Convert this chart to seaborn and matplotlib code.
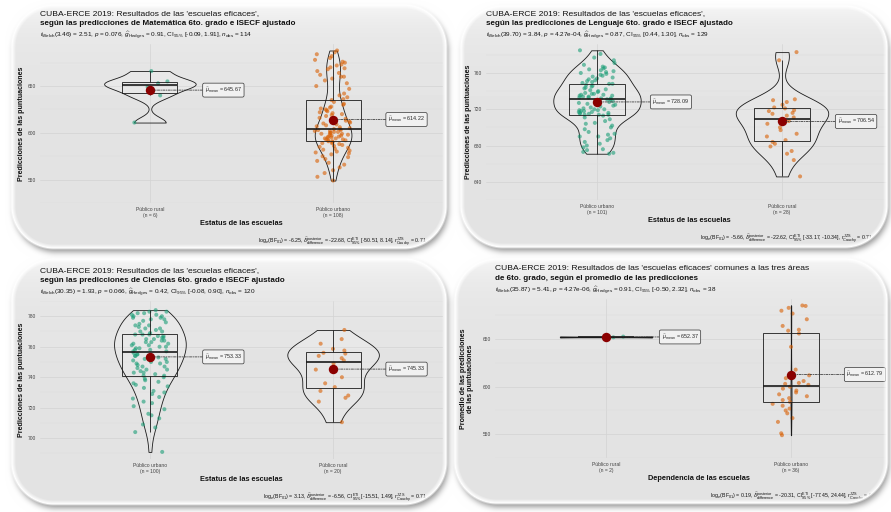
import numpy as np
import pandas as pd
import matplotlib
matplotlib.use("Agg")
import matplotlib.pyplot as plt
from matplotlib.collections import PolyCollection
import seaborn as sns

# ---------------------------------------------------------------------------
# Predicted scores per school (CUBA-ERCE 2019, 6th grade), by school status
# ---------------------------------------------------------------------------
mat_rural = [611, 640, 649, 653, 655, 666]
mat_urbano = [
    549, 553, 557, 560, 563, 566, 568, 570, 572, 574, 575, 577, 578, 579,
    580, 581, 582, 583, 584, 585, 586, 587, 588, 589, 589, 590, 591,
    591, 592, 592, 593, 593, 594, 594, 595, 595, 596, 596, 597, 597, 598,
    598, 599, 599, 600, 600, 601, 601, 602, 602, 603, 603, 604, 604,
    605, 606, 607, 608, 609, 610, 611, 612, 613, 614, 615, 616, 618, 619,
    620, 621, 622, 623, 624, 625, 626, 627, 628, 630, 631, 633, 635,
    636, 638, 640, 642, 647, 650, 653, 656, 658, 660, 660, 662, 664, 666,
    668, 669, 670, 672, 673, 675, 676, 678, 680, 682, 684, 686, 688,
]

len_urbano = [
    671, 672, 673, 675, 676, 678, 680, 682, 684, 686, 688, 690, 690, 692,
    693, 695, 698, 700, 702, 704, 705, 707, 709, 711, 713, 714,
    714, 714, 715, 715, 716, 716, 717, 717, 718, 718, 719, 719, 720, 720,
    721, 722, 723, 724, 725, 726, 727, 728, 729, 730, 731,
    731, 732, 732, 733, 733, 734, 734, 735, 735, 736, 736, 737, 737, 738,
    739, 740, 741, 742, 743, 744, 745, 746, 747, 748, 748,
    749, 750, 751, 752, 753, 754, 755, 756, 757, 758, 759, 760, 761, 762,
    763, 764, 765, 766, 767, 769, 771, 774, 777, 781, 785,
]
len_rural = [
    646, 664, 671, 674, 679, 682, 684, 686, 690, 693, 697, 700, 704, 707,
    711, 713, 715, 716, 718, 719, 721, 722, 725, 728, 730, 731, 774, 783,
]

cie_urbano = [
    691, 704, 707, 709, 713, 715, 716, 719, 721, 723, 724, 726, 727, 729,
    730, 731, 733, 734, 735, 736, 737, 738, 739, 740, 741,
    741, 742, 743, 743, 744, 745, 745, 746, 747, 747, 748, 749, 749, 750,
    750, 751, 752, 752, 753, 753, 754, 754, 755, 755, 756,
    757, 757, 758, 758, 759, 759, 760, 760, 761, 761, 762, 762, 763, 763,
    764, 764, 765, 765, 766, 766, 767, 767, 768, 768, 768,
    769, 770, 770, 771, 772, 772, 773, 774, 774, 775, 776, 777, 778, 778,
    779, 779, 780, 780, 781, 781, 782, 782, 783, 783, 784,
]
cie_rural = [
    710.5, 724, 726.5, 728, 731, 733.5, 736, 740, 745, 749,
    751, 752.5, 754, 755.5, 756, 757.5, 758.6, 762, 765, 771,
]

prom_rural = [652.0, 652.74]
prom_urbano = [
    549, 551, 563, 567, 572, 575, 577, 580, 582, 584, 586, 588, 590, 592,
    594, 596, 598, 600, 602, 603, 604, 606, 609, 612, 618, 642, 656, 659,
    660, 664, 671, 677, 680, 683, 685, 685.5,
]

rural = "Público rural"
urbano = "Público urbano"
group_colors = ["#1B9E77", "#D95F02"]

mat_yticks = [550, 600, 650]
len_yticks = [640, 680, 720, 760]
cie_yticks = [700, 720, 740, 760, 780]
prom_yticks = [550, 600, 650]

title_top = "CUBA-ERCE 2019: Resultados de las 'escuelas eficaces',"
mat_title = "según las predicciones de Matemática 6to. grado e ISECF ajustado"
len_title = "según las predicciones de Lenguaje 6to. grado e ISECF ajustado"
cie_title = "según las predicciones de Ciencias 6to. grado e ISECF ajustado"
prom_title_top = ("CUBA-ERCE 2019: Resultados de las 'escuelas eficaces' "
                  "comunes a las tres áreas")
prom_title = "de 6to. grado, según el promedio de las predicciones"

def stats_line(df, t, p, g, ci, n):
    return (r"$t_{\mathrm{Welch}}$(" + df + ") = " + t + r", $p$ = " + p +
            r", $\widehat{g}_{\mathrm{Hedges}}$ = " + g +
            r", CI$_{95\%}$ " + ci + r", $n_{\mathrm{obs}}$ = " + n)

def bayes_line(bf, d, ci):
    return (r"$\log_e$(BF$_{01}$) = " + bf +
            r", $\widehat{\delta}_{\mathrm{difference}}^{\mathrm{posterior}}$ = " + d +
            r", CI$_{95\%}^{\mathrm{ETI}}$ " + ci +
            r", $r_{\mathrm{Cauchy}}^{\mathrm{JZS}}$ = 0.71")

mat_sub = stats_line("3.46", "2.51", "0.076", "0.91", "[-0.09, 1.91]", "114")
len_sub = stats_line("39.70", "3.84", "4.27e-04", "0.87", "[0.44, 1.30]", "129")
cie_sub = stats_line("30.35", "1.93", "0.066", "0.42", "[-0.08, 0.90]", "120")
prom_sub = stats_line("35.87", "5.41", "4.27e-06", "0.91", "[-0.50, 2.32]", "38")

mat_cap = bayes_line("-6.25", "-22.68", "[-50.51, 8.14]")
len_cap = bayes_line("-5.66", "-22.62", "[-33.17, -10.34]")
cie_cap = bayes_line("3.13", "-6.56", "[-15.51, 1.49]")
prom_cap = bayes_line("0.19", "-20.31", "[-77.45, 24.44]")

# ---------------------------------------------------------------------------
sns.set_theme(style="white")
plt.rcParams["font.family"] = ["Liberation Sans", "DejaVu Sans"]
plt.rcParams["mathtext.fontset"] = "custom"
plt.rcParams["mathtext.rm"] = "Liberation Sans"
plt.rcParams["mathtext.it"] = "Liberation Sans:italic"
plt.rcParams["mathtext.bf"] = "Liberation Sans:bold"
plt.rcParams["mathtext.sf"] = "Liberation Sans"
np.random.seed(7)

W, H = 891, 512
fig = plt.figure(figsize=(W / 100, H / 100), dpi=100)

# rounded "photo" cards: (left, top, right, bottom) in pixels
cards = [(12, 5, 446, 248), (461, 6, 887, 247),
         (12, 259, 446, 504), (455, 259, 887, 503)]
RADIUS = 42
yy, xx = np.mgrid[0:H, 0:W] + 0.5


def rounded_sdf(x0, y0, x1, y1, r):
    cx, cy = (x0 + x1) / 2, (y0 + y1) / 2
    qx = np.abs(xx - cx) - ((x1 - x0) / 2 - r)
    qy = np.abs(yy - cy) - ((y1 - y0) / 2 - r)
    outside = np.hypot(np.maximum(qx, 0), np.maximum(qy, 0))
    inside = np.minimum(np.maximum(qx, qy), 0)
    return outside + inside - r


def gauss_blur(a, s):
    k = np.arange(-int(3 * s), int(3 * s) + 1)
    g = np.exp(-k ** 2 / (2 * s * s))
    g /= g.sum()
    a = np.apply_along_axis(lambda r: np.convolve(r, g, mode="same"), 1, a)
    return np.apply_along_axis(lambda c: np.convolve(c, g, mode="same"), 0, a)


face = np.ones((H, W))
inside = np.zeros((H, W))
shadow = np.zeros((H, W))
dist = np.full((H, W), 1e9)
for (x0, y0, x1, y1) in cards:
    rows = np.arange(y0, y1)
    face[y0:y1, x0:x1] = (0.893 + 0.065 * np.exp(-(rows - y0) / 24.0))[:, None]
    d = rounded_sdf(x0, y0, x1, y1, RADIUS)
    inside = np.maximum(inside, np.clip(-d / 4.0, 0, 1))
    dist = np.minimum(dist, d)
    shadow += (rounded_sdf(x0 + 2, y0 + 4, x1 + 2, y1 + 4, RADIUS) < 0).astype(float)
shadow = gauss_blur(np.clip(shadow, 0, 1), 3.0)
grey = 1 - 0.42 * shadow * np.clip(dist / 2.0, 0, 1)
overlay = np.dstack([grey, grey, grey, 1 - inside])

bg = fig.add_axes([0, 0, 1, 1], zorder=-5)
bg.imshow(face, cmap="gray", vmin=0, vmax=1, extent=(0, W, H, 0),
          aspect="auto", interpolation="bilinear")
bg.set_xlim(0, W)
bg.set_ylim(H, 0)
bg.axis("off")


def fig_text(x, y, s, **kw):
    return fig.text(x / W, 1 - y / H, s, **kw)


def nrd0(kde):
    """Silverman's rule of thumb (R's bw.nrd0) as a scipy bandwidth factor."""
    x = np.asarray(kde.dataset).ravel()
    sd = x.std(ddof=1)
    q75, q25 = np.percentile(x, [75, 25])
    lo = min(sd, (q75 - q25) / 1.34) if q75 > q25 else sd
    return 0.9 * lo * len(x) ** -0.2 / sd


panels = [
    dict(rect=(40, 44, 443, 203), groups=[(rural, mat_rural), (urbano, mat_urbano)],
         t1=title_top, t2=mat_title, sub=mat_sub, cap=mat_cap, cap_x=258,
         yticks=mat_yticks, xlabel="Estatus de las escuelas",
         ylabel="Predicciones de las puntuaciones", ylab_x=22),
    dict(rect=(486, 44, 893, 200), groups=[(urbano, len_urbano), (rural, len_rural)],
         t1=title_top, t2=len_title, sub=len_sub, cap=len_cap, cap_x=700,
         yticks=len_yticks, xlabel="Estatus de las escuelas",
         ylabel="Predicciones de las puntuaciones", ylab_x=468),
    dict(rect=(40, 301, 443, 459), groups=[(urbano, cie_urbano), (rural, cie_rural)],
         t1=title_top, t2=cie_title, sub=cie_sub, cap=cie_cap, cap_x=263,
         yticks=cie_yticks, xlabel="Estatus de las escuelas",
         ylabel="Predicciones de las puntuaciones", ylab_x=22),
    dict(rect=(495, 299, 902, 458), groups=[(rural, prom_rural), (urbano, prom_urbano)],
         t1=prom_title_top, t2=prom_title, sub=prom_sub, cap=prom_cap, cap_x=710,
         yticks=prom_yticks, xlabel="Dependencia de las escuelas",
         ylabel="Promedio de las predicciones\nde las puntuaciones", ylab_x=467),
]

for spec in panels:
    l, t, r, b = spec["rect"]
    ax = fig.add_axes([l / W, 1 - b / H, (r - l) / W, (b - t) / H], zorder=1)
    ax.set_facecolor("none")

    names, values = [], []
    for name, vals in spec["groups"]:
        lab = f"{name}\n(n = {len(vals)})"
        names += [lab] * len(vals)
        values += list(vals)
    df = pd.DataFrame({"grupo": names, "valor": values})
    order = [f"{n}\n(n = {len(v)})" for n, v in spec["groups"]]

    sns.stripplot(data=df, x="grupo", y="valor", order=order, hue="grupo",
                  hue_order=order, palette=group_colors, legend=False,
                  jitter=0.1, size=2.9, alpha=0.6, linewidth=0, ax=ax, zorder=1.5)
    sns.boxplot(data=df, x="grupo", y="valor", order=order, width=0.3,
                color="white", linecolor="#1a1a1a", linewidth=0.6,
                showfliers=False, showcaps=False,
                medianprops={"linewidth": 1.2}, ax=ax)
    for p in ax.patches:
        p.set_facecolor("none")
    n_before = len(ax.collections)
    sns.violinplot(data=df, x="grupo", y="valor", order=order, cut=0, width=0.5,
                   density_norm="area", bw_method=nrd0, inner=None,
                   color="white", linecolor="#1a1a1a", linewidth=0.6, ax=ax)
    for c in ax.collections[n_before:]:
        if isinstance(c, PolyCollection):
            c.set_facecolor((1, 1, 1, 0.12))

    for i, (name, vals) in enumerate(spec["groups"]):
        m = float(np.mean(vals))
        ax.scatter(i, m, s=46, color="#8B0000", linewidth=0, zorder=6)
        ax.annotate(r"$\widehat{\mu}_{\mathrm{mean}}$ = " + f"{m:.2f}",
                    xy=(i, m), xytext=(i + 0.30, m), ha="left", va="center",
                    fontsize=3.9, zorder=7, annotation_clip=False,
                    bbox=dict(boxstyle="round,pad=0.4,rounding_size=0.3",
                              fc="#f1f1f1", ec="#333333", lw=0.5),
                    arrowprops=dict(arrowstyle="-", ls=(0, (3, 1.5, 1, 1.5)),
                                    lw=0.55, color="#333333",
                                    shrinkA=0, shrinkB=3))

    lo, hi = min(values), max(values)
    pad = 0.05 * (hi - lo)
    ax.set_ylim(lo - pad, hi + pad)
    ax.set_xlim(-0.6, 1.6)
    yt = spec["yticks"]
    step = yt[1] - yt[0]
    ax.set_yticks(yt)
    ax.set_yticks(np.arange(yt[0] - step / 2, yt[-1] + step, step), minor=True)
    ax.set_xlabel("")
    ax.set_ylabel("")
    ax.grid(True, which="major", axis="both", color="#d3d3d3", lw=0.5)
    ax.grid(True, which="minor", axis="y", color="#dcdcdc", lw=0.3)
    ax.set_axisbelow(True)
    for s in ax.spines.values():
        s.set_visible(False)
    ax.tick_params(axis="both", which="major", length=1.6, width=0.4,
                   color="#444444", labelcolor="#444444", pad=1.2)
    ax.tick_params(axis="y", labelsize=3.5)
    ax.tick_params(axis="x", labelsize=3.6, pad=1.6)
    ax.tick_params(which="minor", length=0)

    cx = (l + r) / 2
    fig_text(l, t - 30.5, spec["t1"], fontsize=6.1, ha="left", va="center",
             color="#111111")
    fig_text(l, t - 20.5, spec["t2"], fontsize=5.8, ha="left", va="center",
             weight="bold", color="#111111")
    fig_text(l, t - 8.5, spec["sub"], fontsize=4.6, ha="left", va="center",
             color="#111111")
    fig_text(cx, b + 20.5, spec["xlabel"], fontsize=5.3, ha="center", va="center",
             weight="bold", color="#111111")
    fig_text(spec["ylab_x"], (t + b) / 2, spec["ylabel"], fontsize=5.1,
             rotation=90, ha="center", va="center", weight="bold",
             color="#111111", linespacing=0.95)
    fig_text(spec["cap_x"], b + 39, spec["cap"], fontsize=3.8, ha="left",
             va="center", color="#111111")

ov = fig.add_axes([0, 0, 1, 1], zorder=10)
ov.imshow(overlay, extent=(0, W, H, 0), aspect="auto", interpolation="bilinear")
ov.set_xlim(0, W)
ov.set_ylim(H, 0)
ov.axis("off")

fig.savefig("out.png", dpi=100)
